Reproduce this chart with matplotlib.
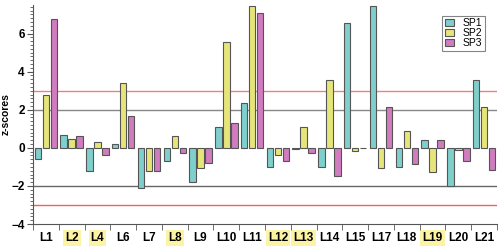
import numpy as np
import matplotlib.pyplot as plt
from matplotlib.ticker import AutoMinorLocator, MultipleLocator

plt.rcParams["font.family"] = ["Liberation Sans", "DejaVu Sans"]

labels = ["L1", "L2", "L4", "L6", "L7", "L8", "L9", "L10", "L11",
          "L12", "L13", "L14", "L15", "L17", "L18", "L19", "L20", "L21"]
highlighted = ["L2", "L4", "L8", "L12", "L13", "L19"]

sp1 = [-0.58, 0.70, -1.19, 0.19, -2.09, -0.67, -1.77, 1.10, 2.38,
       -0.98, -0.07, -0.98, 6.56, 7.45, -0.98, 0.39, -1.98, 3.58]
sp2 = [2.77, 0.49, 0.30, 3.38, -1.19, 0.61, -1.07, 5.56, 7.45,
       -0.39, 1.10, 3.58, -0.19, -1.07, 0.88, -1.28, -0.09, 2.17]
sp3 = [6.77, 0.61, -0.39, 1.68, -1.20, -0.28, -0.77, 1.30, 7.07,
       -0.67, -0.28, -1.47, -0.02, 2.17, -0.86, 0.39, -0.67, -1.17]

series = [("SP1", sp1, "#7fcfcc"), ("SP2", sp2, "#e6e57a"), ("SP3", sp3, "#d07cbf")]

fig = plt.figure(figsize=(5.0, 2.46), dpi=100)
ax = fig.add_axes([0.066, 0.089, 0.928, 0.891])

x = np.arange(len(labels))
step = 0.31
width = 0.25
for i, (name, vals, col) in enumerate(series):
    ax.bar(x + (i - 1) * step, vals, width, color=col, edgecolor="#555555",
           linewidth=0.8, label=name, zorder=3)

# significance thresholds
for v, c in [(2, "#888888"), (-2, "#666666"), (3, "#f08080"), (-3, "#f06060")]:
    ax.axhline(v, color=c, linewidth=1.0, zorder=2)

ax.set_xlim(-0.5, len(labels) - 0.5)
ax.set_ylim(-4, 7.5)
ax.set_xticks(x)
ax.set_xticklabels(labels, fontsize=8.5, fontweight="bold")
ax.set_xticks(np.arange(-0.5, len(labels)), minor=True)
ax.tick_params(axis="x", which="major", length=0, pad=6)
ax.tick_params(axis="x", which="minor", length=4, color="#555555")
for t in ax.get_xticklabels():
    if t.get_text() in highlighted:
        t.set_bbox(dict(facecolor="#fdf3a5", edgecolor="none", pad=1.5))

ax.yaxis.set_major_locator(MultipleLocator(2))
ax.yaxis.set_minor_locator(AutoMinorLocator(10))
ax.tick_params(axis="y", which="major", length=4, labelsize=8.5, color="#555555", pad=2)
ax.tick_params(axis="y", which="minor", length=2, color="#555555")
for t in ax.get_yticklabels():
    t.set_fontweight("bold")
ax.set_ylabel("z-scores", fontsize=7.5, fontweight="bold")
ax.yaxis.set_label_coords(-0.048, 0.5)

for s in ["top", "right"]:
    ax.spines[s].set_visible(False)
for s in ["left", "bottom"]:
    ax.spines[s].set_color("#555555")

leg = ax.legend(loc="upper right", fontsize=7.5, fancybox=False, handlelength=0.9,
                handleheight=0.6, handletextpad=0.8, borderpad=0.25,
                labelspacing=0.0, bbox_to_anchor=(0.985, 0.975))
leg.get_frame().set_edgecolor("#666666")
leg.get_frame().set_linewidth(0.8)

fig.savefig("out.png", dpi=100)
